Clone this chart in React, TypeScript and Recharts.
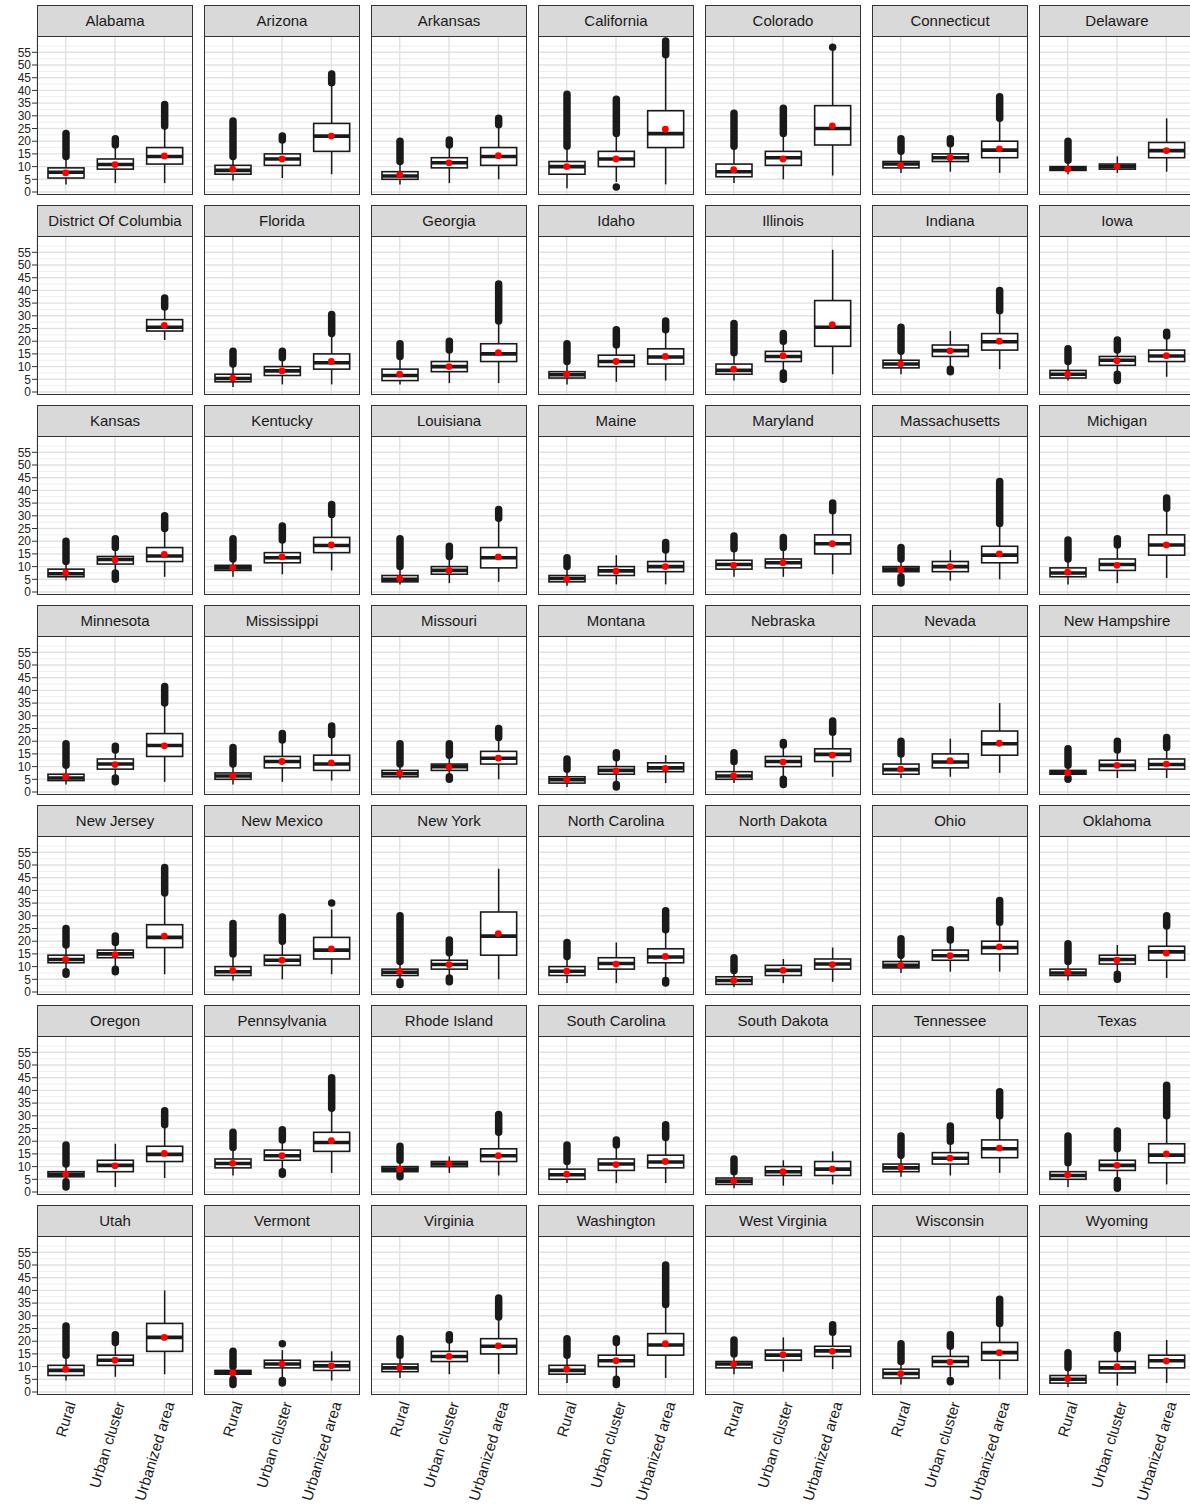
import React from 'react';
import { ComposedChart, Bar, Scatter, XAxis, YAxis, CartesianGrid } from 'recharts';

// Travel time by settlement type, one facet per state
const categories = ['Rural', 'Urban cluster', 'Urbanized area'];

const states = [
  'Alabama', 'Arizona', 'Arkansas', 'California', 'Colorado', 'Connecticut', 'Delaware',
  'District Of Columbia', 'Florida', 'Georgia', 'Idaho', 'Illinois', 'Indiana', 'Iowa',
  'Kansas', 'Kentucky', 'Louisiana', 'Maine', 'Maryland', 'Massachusetts', 'Michigan',
  'Minnesota', 'Mississippi', 'Missouri', 'Montana', 'Nebraska', 'Nevada', 'New Hampshire',
  'New Jersey', 'New Mexico', 'New York', 'North Carolina', 'North Dakota', 'Ohio', 'Oklahoma',
  'Oregon', 'Pennsylvania', 'Rhode Island', 'South Carolina', 'South Dakota', 'Tennessee', 'Texas',
  'Utah', 'Vermont', 'Virginia', 'Washington', 'West Virginia', 'Wisconsin', 'Wyoming',
];

const yTicks = [0, 5, 10, 15, 20, 25, 30, 35, 40, 45, 50, 55];
const yMinor = [2.5, 7.5, 12.5, 17.5, 22.5, 27.5, 32.5, 37.5, 42.5, 47.5, 52.5, 57.5];

type Triple = (number | null)[];
type Span = [number, number] | null;

// [Rural, Urban cluster, Urbanized area] per state
const whiskerLow: Triple[] = [
  [3, 3.5, 3.5], [4.5, 5.5, 7], [3, 3.5, 5], [1.5, 4, 3], [3.5, 5, 6.5], [7.5, 8, 7.5], [7, 7.5, 8],
  [null, null, 20.5], [2, 3, 3], [3, 3.5, 3.5], [3, 4, 4.5], [4.5, 7, 7], [7, 10, 9], [4.5, 7.5, 6],
  [4.5, 8, 6], [6, 7, 8.5], [3, 3.5, 4], [2.5, 3, 3], [6, 6, 7], [6, 4.5, 5], [3, 3.5, 5.5],
  [3, 6, 4], [3, 4, 4.5], [5, 6, 5], [2, 3.5, 3.5], [3.5, 6, 6], [5.5, 6, 7.5], [5.5, 5.5, 5.5],
  [9, 10, 7], [4.5, 5, 7], [3.5, 6, 5], [3.5, 3.5, 5], [2, 3.5, 4], [7.5, 8, 8], [4.5, 7.5, 5.5],
  [4.5, 2, 5.5], [6.5, 8.5, 7.5], [7, 7.5, 6.5], [3.5, 3.5, 3.5], [1.5, 2.5, 3], [6, 6.5, 7.5], [2, 4, 3],
  [4.5, 6, 7], [5.5, 5.5, 4.5], [5.5, 7, 7], [3.5, 5, 5.5], [7, 8, 9], [3, 6, 5], [2, 2.5, 3.5],
];

const q1: Triple[] = [
  [5.5, 9, 11], [7, 10.5, 16], [5, 9.5, 10.5], [7, 10, 17.5], [6, 10.5, 18.5], [9.5, 12, 13.5], [8.5, 9, 13.5],
  [null, null, 24], [4, 6.5, 9], [4.5, 8, 12], [5.5, 10, 11], [7, 12, 18], [9.5, 14, 16.5], [5.5, 10.5, 12],
  [6, 11, 12], [8.5, 11.5, 15.5], [4, 7, 9.5], [4, 6.5, 8], [9, 9.5, 15], [8, 8, 11.5], [6, 8.5, 14.5],
  [4.5, 9, 14], [5, 9.5, 8.5], [6, 8.5, 11], [3.5, 7, 8], [5, 10, 12], [7, 9.5, 14.5], [7, 8.5, 9],
  [11.5, 13.5, 17.5], [6.5, 10.5, 13], [6.5, 9, 14.5], [6.5, 9, 11.5], [3, 6.5, 9], [9.5, 12.5, 15], [6.5, 11, 12.5],
  [6, 8, 12], [9.5, 12.5, 16], [8, 10, 12], [5, 8.5, 9.5], [3, 6.5, 6.5], [8, 11, 13.5], [5, 8.5, 11.5],
  [6.5, 10.5, 16], [7, 9.5, 8.5], [8, 12, 15], [7, 10, 14.5], [9.5, 12.5, 14], [5.5, 10, 12.5], [3.5, 7.5, 9.5],
];

const median: Triple[] = [
  [7.8, 10.8, 14], [8.5, 13, 22], [6.3, 11.5, 14], [10, 13, 23], [8, 13.5, 25], [11, 13.5, 16.5], [9.2, 10, 16.3],
  [null, null, 25.5], [5.3, 8.3, 11.5], [6.5, 10, 15], [6.8, 12, 13.8], [8.5, 14, 25.5], [11, 16.3, 19.8], [7, 12.5, 14.2],
  [7.2, 12.8, 14.2], [9.5, 13.5, 18.3], [5, 8.5, 13.5], [5.3, 8.3, 10], [10.8, 11.5, 19], [9, 10, 14.5], [7.5, 10.8, 18.5],
  [5.5, 11, 18.3], [6.3, 12, 11], [7.2, 10, 13.3], [4.8, 8.5, 9.5], [6.3, 12, 14.8], [8.8, 11.8, 19], [7.7, 10.5, 10.8],
  [12.8, 15, 21.5], [8, 12.5, 16.5], [7.8, 10.8, 22], [8.2, 11.2, 13.8], [4.5, 8.5, 11], [10.5, 14.3, 17.5], [7.5, 12.8, 15.8],
  [7, 10.5, 14.8], [11.2, 14.3, 19.5], [9, 11, 14.3], [6.8, 11, 11.8], [4.3, 8, 9], [9.5, 13.3, 17], [6.5, 10.5, 14.5],
  [8.5, 12.5, 21.5], [7.7, 11, 10.3], [9.5, 14, 18], [8.5, 12.3, 18.5], [11, 14.5, 16.2], [7.3, 12, 15.5], [5, 9.5, 12.3],
];

const q3: Triple[] = [
  [9.5, 13, 17.5], [10.5, 15, 27], [8, 13.5, 17.5], [12, 16, 32], [11, 16, 34], [12, 15, 20], [10, 11, 19.5],
  [null, null, 28.5], [7, 10, 15], [9, 12, 19], [8, 14.5, 17], [11, 16, 36], [12.5, 18.5, 23], [8.5, 14, 16.5],
  [9, 14, 17.5], [10.5, 15.5, 21.5], [6.5, 10, 17.5], [6.5, 10, 12], [12.5, 13, 22.5], [10, 12, 18], [9.5, 13, 22.5],
  [7, 13, 23], [7.5, 14, 14.5], [8.5, 11, 16], [6, 10, 11.5], [8, 14, 17], [11, 15, 24], [8.5, 12.5, 13],
  [14.5, 16.5, 26.5], [10, 14.5, 21.5], [9, 12.5, 31.5], [10, 13.5, 17], [6, 10.5, 13], [12, 16.5, 20], [9, 14.5, 18],
  [8, 12.5, 18], [13, 16.5, 23.5], [10, 12, 17], [9, 13, 14.5], [5.5, 10, 12], [11, 15.5, 20.5], [8, 12.5, 19],
  [10.5, 14.5, 27], [8.5, 12.5, 12], [11, 16, 21], [10.5, 14.5, 23], [12, 16.5, 18], [9, 14, 19.5], [6.5, 12, 14.5],
];

const whiskerHigh: Triple[] = [
  [14, 18, 26], [14, 20, 43], [12, 18, 26.5], [18, 23, 54], [18, 23, 56], [15.5, 18.5, 28.5], [12.5, 14, 29],
  [null, null, 33], [11, 13, 23], [14, 16, 28], [12, 18, 24], [15.5, 20, 56], [16, 24, 32], [12, 16, 21.5],
  [12, 17, 25], [13, 20.5, 30.5], [10, 14, 29], [10, 14.5, 16], [17, 17.5, 32], [12.5, 16.5, 27], [13, 18, 33],
  [10.5, 16, 35], [11, 20, 22], [11, 14, 21], [9, 13, 14.5], [12, 18, 23], [15, 21, 35], [10.5, 16, 17],
  [18.5, 19.5, 39], [15, 20, 32.5], [12, 15.5, 48.5], [14, 19.5, 24.5], [8.5, 13, 17.5], [14.5, 20.5, 27.5], [12, 18.5, 26],
  [11, 19, 26.5], [17.5, 20.5, 33], [12.5, 14, 23.5], [12, 18, 21.5], [8, 12.5, 16], [14.5, 20, 30], [11.5, 17, 30],
  [14.5, 19.5, 40], [10, 16.5, 16], [14.5, 20, 29.5], [14.5, 19, 34.5], [15, 21.5, 23.5], [12, 18, 27], [9.5, 17, 20.5],
];

const means: Triple[] = [
  [7.5, 10.8, 14.2], [9, 13, 22], [6.8, 11.5, 14.3], [10, 13, 24.7], [8.8, 13, 26], [10.5, 13.5, 17], [9, 10, 16.3],
  [null, null, 26.2], [5.5, 8.3, 12], [7, 10, 15.5], [7, 12, 14], [9, 14.3, 26.5], [11, 16.2, 20], [7, 12.3, 14.3],
  [7.5, 12.6, 14.8], [9.5, 13.8, 18.5], [5.3, 8.5, 13.8], [5, 8.2, 10], [10.5, 11.5, 19], [8.8, 10, 15], [7.8, 10.5, 18.5],
  [6, 10.8, 18.2], [6.3, 12, 11.5], [7.3, 9.8, 13.3], [4.8, 8.3, 9.3], [6.3, 11.8, 14.5], [9, 12.3, 19.2], [7.5, 10.5, 11],
  [12.8, 14.7, 22], [8.5, 12.5, 17], [8, 10.8, 23], [8.2, 11, 14], [4.5, 8.5, 10.8], [10.5, 14.3, 17.8], [7.8, 12.5, 15.3],
  [7, 10.3, 15.2], [11.3, 14.3, 20.2], [9, 11, 14.3], [7, 10.8, 12], [4.3, 8, 9], [9.5, 13.3, 17.3], [6.8, 10.5, 15],
  [9, 12.5, 21.5], [7.5, 11, 10.3], [9.5, 14, 18.2], [9, 12.3, 19], [11, 14.7, 16], [7.2, 11.8, 15.5], [5.2, 10, 12.2],
];

// outlier runs above the upper whisker: [lowest, highest]
const upperOutliers: Span[][] = [
  [[14, 23], [18.5, 21], [26, 34.5]], [[14, 28], [20.5, 22], [43, 46.5]], [[12, 20], [18.5, 20.5], [26.5, 29]],
  [[18, 38.5], [23, 36.5], [54, 59.5]], [[18, 31], [23, 33], [57, 57]], [[16, 21], [19, 21], [29, 37.5]],
  [[12.5, 20], null, null],
  [null, null, [33.5, 37]], [[11, 16], [13.5, 16], [23, 30.5]], [[14, 19], [16.5, 20], [28, 42.5]],
  [[12, 19], [18.5, 24.5], [24.5, 28]], [[15.5, 27], [20, 23], null], [[16, 25.5], null, [32, 40]],
  [[12, 17], [16.5, 20.5], [22, 23.5]],
  [[12, 20], [17.5, 21], [25, 30]], [[13, 21], [20.5, 26], [30.5, 34.5]], [[10, 21], [14, 18], [29, 32.5]],
  [[10, 13.5], null, [16.5, 19.5]], [[17, 22], [17.5, 21.5], [32, 35]], [[13, 17.5], null, [27, 43.5]],
  [[13, 20.5], [18.5, 21], [33, 37]],
  [[10.5, 19], [16.5, 18], [35, 41.5]], [[11, 17.5], [20.5, 23], [22.5, 26]], [[11, 19], [14.5, 19], [21.5, 25]],
  [[9, 13], [13.5, 15.5], null], [[12, 15.5], [18.5, 19.5], [23.5, 28]], [[15, 20], null, null],
  [[10.5, 17], [16.5, 20], [17.5, 21.5]],
  [[18.5, 25], [19.5, 22], [39, 49]], [[15, 27], [20, 29.5], [35, 35]], [[12, 30], [15.5, 20.5], null],
  [[14, 19.5], null, [24.5, 32]], [[8.5, 13.5], null, null], [[14.5, 21], [20.5, 24.5], [27.5, 36]],
  [[12, 19], null, [26, 30]],
  [[11, 18.5], null, [26.5, 32]], [[17.5, 23.5], [20.5, 24.5], [33, 45]], [[12.5, 18], null, [23.5, 30.5]],
  [[12, 18.5], [18.5, 20.5], [21.5, 26.5]], [[8, 13], null, null], [[14.5, 22], [20, 26], [30, 39.5]],
  [[11.5, 22], [17, 24], [30, 42]],
  [[14.5, 26], [19.5, 22.5], null], [[10, 16], [19, 19], null], [[14.5, 21], [20.5, 22.5], [29.5, 37]],
  [[14.5, 21], [19.5, 21], [34.5, 50]], [[15, 20.5], null, [23.5, 26.5]], [[12, 19], [18, 22.5], [27, 36.5]],
  [[9.5, 15.5], [17, 22.5], null],
];

// outlier runs below the lower whisker: [lowest, highest]
const lowerOutliers: Span[][] = [
  [null, null, null], [null, null, null], [null, null, null], [null, [2, 2], null], [null, null, null],
  [null, null, null], [null, null, null],
  [null, null, null], [null, null, null], [null, null, null], [null, null, null], [null, [5, 7.5], null],
  [null, [8, 9], null], [null, [4.5, 7], null],
  [null, [5, 7.5], null], [null, null, null], [null, null, null], [null, null, null], [null, null, null],
  [[3.5, 6], null, null], [null, null, null],
  [null, [4, 5.5], null], [null, null, null], [null, [5, 6], null], [null, [2, 3], null], [null, [3, 5], null],
  [null, null, null], [[5, 5.5], null, null],
  [[7, 8], [8, 9], null], [null, null, null], [[3, 4], [4, 5.5], null], [null, null, [3.5, 4.5]],
  [null, null, null], [null, null, null], [null, [5, 7], null],
  [[2, 4], null, null], [null, [7, 8], null], [[6, 7], null, null], [null, null, null], [null, null, null],
  [null, null, null], [null, [1.5, 4.5], null],
  [null, null, null], [[3, 5], [3.5, 4.5], null], [null, null, null], [null, [3, 5], null], [null, null, null],
  [null, [4, 4.5], null], [null, null, null],
];

const rowsFor = (i: number) =>
  categories.map((cat, k) => {
    const med = median[i][k];
    if (med == null) return { cat, range: null, mean: null };
    const up = upperOutliers[i][k];
    const dn = lowerOutliers[i][k];
    const wLo = whiskerLow[i][k] as number;
    const wHi = whiskerHigh[i][k] as number;
    const lo = dn ? Math.min(dn[0], wLo) : wLo;
    const hi = up ? Math.max(up[1], wHi) : wHi;
    return {
      cat, range: [lo, hi], lo, hi, wLo, wHi, med, up, dn,
      q1: q1[i][k] as number, q3: q3[i][k] as number, mean: means[i][k],
    };
  });

const INK = '#1a1a1a';

// box + whiskers + outlier runs, placed inside the bar's own [lo, hi] extent
const BoxShape = (props: any) => {
  const { x, y, width, height, payload } = props;
  if (!payload || payload.range == null) return null;
  const top = Math.min(y, y + height);
  const bottom = Math.max(y, y + height);
  const span = payload.hi - payload.lo;
  const py = (v: number) => bottom - ((v - payload.lo) / span) * (bottom - top);
  const cx = x + width / 2;
  const yq1 = py(payload.q1);
  const yq3 = py(payload.q3);
  return (
    <g>
      {payload.up && (
        <line x1={cx} x2={cx} y1={py(payload.up[0])} y2={py(payload.up[1])}
          stroke={INK} strokeWidth={7.5} strokeLinecap="round" />
      )}
      {payload.dn && (
        <line x1={cx} x2={cx} y1={py(payload.dn[0])} y2={py(payload.dn[1])}
          stroke={INK} strokeWidth={7.5} strokeLinecap="round" />
      )}
      <line x1={cx} x2={cx} y1={py(payload.wLo)} y2={py(payload.wHi)} stroke={INK} strokeWidth={1.5} />
      <rect x={x} y={yq3} width={width} height={yq1 - yq3} fill="#fff" stroke={INK} strokeWidth={1.6} />
      <line x1={x} x2={x + width} y1={py(payload.med)} y2={py(payload.med)} stroke={INK} strokeWidth={3.6} />
    </g>
  );
};

const MeanDot = (props: any) => {
  const { cx, cy } = props;
  if (typeof cy !== 'number' || Number.isNaN(cy)) return null;
  return <circle cx={cx} cy={cy} r={3.4} fill="#ff0000" />;
};

const CatTick = ({ x, y, payload }: any) => (
  <text
    transform={`translate(${x + 5},${y + 7}) rotate(-73)`}
    textAnchor="end"
    dominantBaseline="central"
    fontSize={15}
    fill={INK}
  >
    {payload.value}
  </text>
);

const COLS = 7;
const PANEL_W = 156;
const PANEL_H = 159;
const PITCH_X = 167;
const PITCH_Y = 200;
const LEFT = 37;
const STRIP_H = 31;
const X_AXIS_H = 115;
const BELOW = 8;
const yDomain = [-1.18, 61.42];

const Panel = ({ index }: { index: number }) => {
  const col = index % COLS;
  const row = Math.floor(index / COLS);
  const lastRow = row === Math.ceil(states.length / COLS) - 1;
  const first = col === 0;
  const plotLeft = LEFT + PITCH_X * col;
  const plotTop = 36 + PITCH_Y * row;
  const data = rowsFor(index);
  // first column gets a little room under the plot so the 0 label is not clipped
  const extra = lastRow ? X_AXIS_H : first ? BELOW : 0;
  return (
    <>
      <div
        style={{
          position: 'absolute', left: plotLeft, top: plotTop - STRIP_H, width: PANEL_W, height: STRIP_H + 1,
          boxSizing: 'border-box', background: '#d9d9d9', border: '1px solid #333',
          fontSize: 15, color: INK, textAlign: 'center', lineHeight: `${STRIP_H - 1}px`, whiteSpace: 'nowrap',
        }}
      >
        {states[index]}
      </div>
      <div style={{ position: 'absolute', left: first ? 0 : plotLeft, top: plotTop }}>
        <ComposedChart
          width={PANEL_W + (first ? LEFT : 0)}
          height={PANEL_H + extra}
          data={data}
          margin={{ top: 0, right: 0, bottom: !lastRow && first ? BELOW : 0, left: 0 }}
        >
          <CartesianGrid vertical={false} horizontalValues={yMinor} stroke="#ececec" strokeWidth={0.9} />
          <CartesianGrid horizontalValues={yTicks} stroke="#e2e2e2" strokeWidth={1.4} />
          <XAxis
            dataKey="cat"
            type="category"
            padding={{ left: 4, right: 4 }}
            hide={!lastRow}
            height={lastRow ? X_AXIS_H : 0}
            axisLine={false}
            tickLine={false}
            tickSize={0}
            tickMargin={0}
            interval={0}
            tick={<CatTick />}
          />
          <YAxis
            type="number"
            domain={yDomain}
            ticks={yTicks}
            allowDataOverflow
            hide={!first}
            width={first ? LEFT : 0}
            axisLine={false}
            tickSize={5}
            tickMargin={1}
            tickLine={{ stroke: '#333' }}
            tick={{ fontSize: 12, fill: '#222' }}
            interval={0}
          />
          <Bar dataKey="range" barSize={36} shape={<BoxShape />} isAnimationActive={false} />
          <Scatter dataKey="mean" shape={<MeanDot />} isAnimationActive={false} />
        </ComposedChart>
      </div>
      <div
        style={{
          position: 'absolute', left: plotLeft, top: plotTop, width: PANEL_W, height: PANEL_H,
          boxSizing: 'border-box', border: '1px solid #333', pointerEvents: 'none',
        }}
      />
    </>
  );
};

export default function App() {
  return (
    <div
      style={{
        position: 'absolute', left: 0, top: 0, width: 1190, height: 1510, background: '#fff',
        fontFamily: '"Liberation Sans", Arial, sans-serif', overflow: 'hidden',
      }}
    >
      {states.map((_, i) => (
        <Panel key={states[i]} index={i} />
      ))}
    </div>
  );
}
